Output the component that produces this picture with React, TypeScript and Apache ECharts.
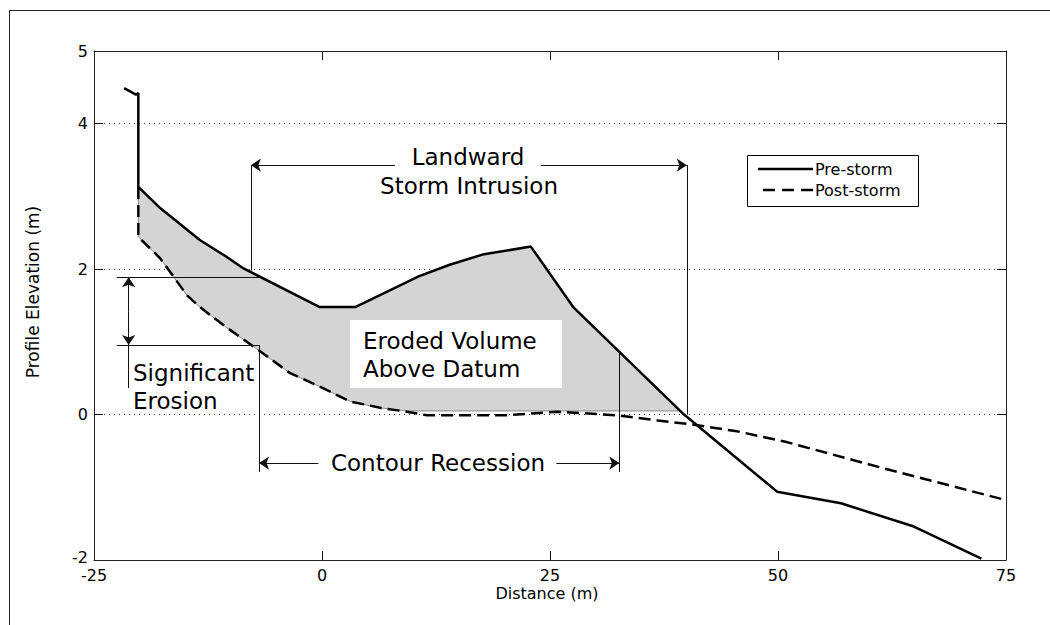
import React, { useEffect, useRef } from "react";
import * as echarts from "echarts";

// Axis ticks
const xTicks = [-25, 0, 25, 50, 75];
const yTicks = [-2, 0, 2, 4];
const yTickLabels = [-2, 0, 2, 4, 5];

// Profiles (distance m, elevation m)
const preStorm: [number, number][] = [
  [-21.7, 4.49], [-20.4, 4.4], [-20.14, 4.42], [-20.14, 3.13], [-17.75, 2.84],
  [-13.4, 2.4], [-10.6, 2.18], [-8.6, 2.01], [-0.3, 1.48], [3.7, 1.48],
  [10.6, 1.9], [14.0, 2.06], [17.6, 2.2], [22.9, 2.31], [27.6, 1.47],
  [39.7, 0.0], [49.9, -1.06], [56.9, -1.22], [64.9, -1.54], [72.3, -1.98],
];
const postStorm: [number, number][] = [
  [-20.14, 3.13], [-20.14, 2.45], [-19.95, 2.42], [-17.75, 2.15], [-16.3, 1.9],
  [-14.8, 1.64], [-13.4, 1.48], [-10.6, 1.21], [-7.0, 0.89], [-3.5, 0.57],
  [0.0, 0.37], [3.1, 0.18], [6.5, 0.09], [9.3, 0.04], [11.5, -0.01],
  [20.3, -0.01], [25.8, 0.04], [32.4, -0.01], [36.8, -0.08], [40.8, -0.14],
  [45.5, -0.23], [50.7, -0.37], [62.5, -0.77], [74.5, -1.16],
];
const datumFill = 0.05;
const legendNames = ["Pre-storm", "Post-storm"];

// Annotation segments (data coords): arrows point toward the second coordinate
const arrowSegments: [number, number][][] = [
  [[8.0, 3.43], [-7.8, 3.43]],
  [[24.0, 3.43], [40.0, 3.43]],
  [[-21.2, 1.42], [-21.2, 1.89]],
  [[-21.2, 1.42], [-21.2, 0.956]],
  [[-0.4, -0.667], [-6.9, -0.667]],
  [[25.7, -0.667], [32.6, -0.667]],
];
const plainSegments: [number, number][][] = [
  [[-7.8, 3.43], [-7.8, 1.98]],
  [[40.0, 3.43], [40.0, 0.0]],
  [[-22.5, 1.89], [-6.9, 1.89]],
  [[-22.5, 0.956], [-6.9, 0.956]],
  [[-21.2, 0.956], [-21.2, 0.365]],
  [[-6.9, 0.956], [-6.9, -0.79]],
  [[32.6, 0.86], [32.6, -0.79]],
];

function buildFill(): [number, number][] {
  const top: [number, number][] = [];
  let started = false;
  for (let i = 0; i < preStorm.length; i++) {
    const p = preStorm[i];
    if (!started) {
      if (p[0] === -20.14 && p[1] === 3.13) started = true;
      else continue;
    }
    if (p[1] >= datumFill) top.push(p);
    else {
      const q = preStorm[i - 1];
      const t = (q[1] - datumFill) / (q[1] - p[1]);
      top.push([q[0] + t * (p[0] - q[0]), datumFill]);
      break;
    }
  }
  const xEnd = top[top.length - 1][0];
  const bottom: [number, number][] = [];
  for (let i = 1; i < postStorm.length; i++) {
    const p = postStorm[i];
    if (p[0] > xEnd) break;
    bottom.push([p[0], Math.max(p[1], datumFill)]);
  }
  bottom.push([xEnd, datumFill]);
  return top.concat(bottom.reverse());
}

const FONT = "DejaVu Sans";

export default function App() {
  const ref = useRef<HTMLDivElement>(null);
  useEffect(() => {
    if (!ref.current) return;
    const chart = echarts.init(ref.current, undefined, { renderer: "svg" });
    const fillPoly = buildFill();
    const xMin = xTicks[0];
    const xMax = xTicks[xTicks.length - 1];
    const yMin = yTickLabels[0];
    const yMax = yTickLabels[yTickLabels.length - 1];
    // tick length (9 px) expressed in data units of each axis
    const plotW = 1050 - 94 - 44;
    const plotH = 625 - 51 - 65;
    const tx = (9 * (xMax - xMin)) / plotW;
    const ty = (9 * (yMax - yMin)) / plotH;
    const tickSegments: [number, number][][] = [];
    xTicks.slice(1, -1).forEach((v) => {
      tickSegments.push([[v, yMin], [v, yMin + ty]]);
      tickSegments.push([[v, yMax], [v, yMax - ty]]);
    });
    yTicks.slice(1).forEach((v) => {
      tickSegments.push([[xMin, v], [xMin + tx, v]]);
      tickSegments.push([[xMax, v], [xMax - tx, v]]);
    });

    const axisLine = () => ({ show: true, onZero: false, lineStyle: { color: "#222", width: 1 } });
    const txt = (
      text: string,
      x: number,
      y: number,
      align: string,
      fontSize: number,
      extra: any = {}
    ) => ({
      type: "text",
      x,
      y,
      z: 20,
      silent: true,
      ...extra,
      style: {
        text,
        fontSize,
        fontFamily: FONT,
        fill: "#000",
        textAlign: align,
        align,
        textVerticalAlign: "middle",
        verticalAlign: "middle",
      },
    });
    chart.setOption({
      animation: false,
      backgroundColor: "#fff",
      grid: { left: 94, right: 44, top: 51, bottom: 65, containLabel: false },
      xAxis: [
        {
          type: "value",
          min: xMin,
          max: xMax,
          interval: 25,
          position: "bottom",
          axisLine: axisLine(),
          axisTick: { show: false },
          axisLabel: { fontSize: 16, fontFamily: FONT, color: "#000", margin: 7 },
          splitLine: { show: false },
        },
        {
          type: "value",
          min: xMin,
          max: xMax,
          interval: 25,
          position: "top",
          axisLine: axisLine(),
          axisTick: { show: false },
          axisLabel: { show: false },
          splitLine: { show: false },
        },
      ],
      yAxis: [
        {
          type: "value",
          min: yMin,
          max: yMax,
          interval: 2,
          position: "left",
          axisLine: axisLine(),
          axisTick: { show: false },
          axisLabel: {
            fontSize: 16,
            fontFamily: FONT,
            color: "#000",
            margin: 6,
            formatter: (v: number) =>
              v === yTickLabels[0]
                ? "{lo|" + v + "}"
                : yTickLabels.includes(v)
                ? String(v)
                : "",
            rich: {
              lo: { fontSize: 16, fontFamily: FONT, color: "#000", padding: [0, 0, 6, 0] },
            },
          },
          splitLine: { show: true, lineStyle: { color: "#333", width: 1, type: [1, 4] } },
        },
        {
          type: "value",
          min: yMin,
          max: yMax,
          interval: 2,
          position: "right",
          axisLine: axisLine(),
          axisTick: { show: false },
          axisLabel: { show: false },
          splitLine: { show: false },
        },
      ],
      series: [
        {
          type: "custom",
          name: "Eroded volume",
          silent: true,
          z: 1,
          data: [[0, 0]],
          renderItem: (_params: any, api: any) => ({
            type: "polygon",
            shape: { points: fillPoly.map((p) => api.coord(p)) },
            style: { fill: "#d4d4d4", stroke: "#8a8a8a", lineWidth: 1 },
          }),
        },
        {
          type: "line",
          name: legendNames[0],
          data: preStorm,
          symbol: "none",
          z: 5,
          lineStyle: { color: "#000", width: 2.5 },
          itemStyle: { color: "#000" },
        },
        {
          type: "line",
          name: legendNames[1],
          data: postStorm,
          symbol: "none",
          z: 4,
          lineStyle: { color: "#000", width: 2.5, type: [12, 6] },
          itemStyle: { color: "#000" },
        },
        {
          type: "lines",
          coordinateSystem: "cartesian2d",
          silent: true,
          z: 6,
          symbol: ["none", "arrow"],
          symbolSize: 10,
          lineStyle: { color: "#111", width: 1, opacity: 1 },
          data: arrowSegments.map((c) => ({ coords: c })),
        },
        {
          type: "lines",
          coordinateSystem: "cartesian2d",
          silent: true,
          z: 6,
          symbol: "none",
          lineStyle: { color: "#111", width: 1, opacity: 1 },
          data: plainSegments.concat(tickSegments).map((c) => ({ coords: c })),
        },
      ],
      graphic: [
        {
          type: "rect",
          silent: true,
          z: 0,
          shape: { x: 9.5, y: 10.5, width: 1200, height: 800 },
          style: { fill: "none", stroke: "#222", lineWidth: 1 },
        },
        {
          type: "rect",
          silent: true,
          z: 10,
          shape: { x: 350, y: 320, width: 212, height: 68 },
          style: { fill: "#fff" },
        },
        txt("Landward", 468, 157, "center", 23),
        txt("Storm Intrusion", 469, 186, "center", 23),
        txt("Eroded Volume", 363, 341, "left", 23),
        txt("Above Datum", 363, 369, "left", 23),
        txt("Significant", 133, 373, "left", 23),
        txt("Erosion", 133, 401, "left", 23),
        txt("Contour Recession", 438, 463, "center", 23),
        txt("Distance (m)", 547, 593, "center", 16),
        txt("Profile Elevation (m)", 33, 292, "center", 17, { rotation: Math.PI / 2 }),
        // legend
        {
          type: "rect",
          silent: true,
          z: 20,
          shape: { x: 747.5, y: 155.5, width: 171, height: 51 },
          style: { fill: "#fff", stroke: "#000", lineWidth: 1 },
        },
        {
          type: "line",
          silent: true,
          z: 21,
          shape: { x1: 758, y1: 169, x2: 813, y2: 169 },
          style: { stroke: "#000", lineWidth: 2.5 },
        },
        {
          type: "line",
          silent: true,
          z: 21,
          shape: { x1: 763, y1: 190, x2: 813, y2: 190 },
          style: { stroke: "#000", lineWidth: 2.5, lineDash: [12, 7] },
        },
        txt(legendNames[0], 815, 169, "left", 16, { z: 22 }),
        txt(legendNames[1], 815, 190, "left", 16, { z: 22 }),
      ],
    });
    return () => chart.dispose();
  }, []);
  return (
    <div
      ref={ref}
      style={{ position: "fixed", left: 0, top: 0, width: 1050, height: 625 }}
    />
  );
}
